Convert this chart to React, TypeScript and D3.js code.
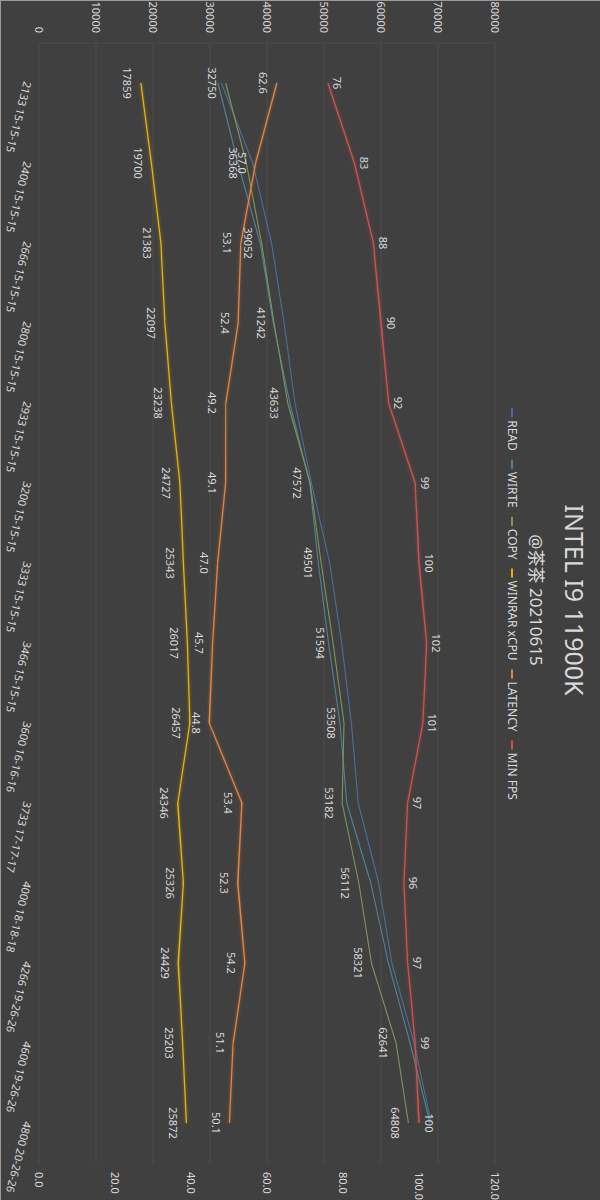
import React from 'react';
import * as d3 from 'd3';

const categories = [
  '2133 15-15-15', '2400 15-15-15', '2666 15-15-15', '2800 15-15-15', '2933 15-15-15',
  '3200 15-15-15', '3333 15-15-15', '3466 15-15-15', '3600 16-16-16', '3733 17-17-17',
  '4000 18-18-18', '4266 19-26-26', '4600 19-26-26', '4800 20-26-26',
];
const readValues = [32000, 37500, 40800, 43000, 44900, 47800, 51000, 53100, 54800, 56000, 59600, 61900, 65800, 68800];
const writeValues = [31400, 34900, 38800, 41100, 44000, 47500, 49000, 50800, 52800, 54000, 58200, 61300, 65100, 68600];
const copyValues = [32750, 36368, 39052, 41242, 43633, 47572, 49501, 51594, 53508, 53182, 56112, 58321, 62641, 64808];
const winrarValues = [17859, 19700, 21383, 22097, 23238, 24727, 25343, 26017, 26457, 24346, 25326, 24429, 25203, 25872];
const latencyValues = [62.6, 57.0, 53.1, 52.4, 49.2, 49.1, 47.0, 45.7, 44.8, 53.4, 52.3, 54.2, 51.1, 50.1];
const minFpsValues = [76, 83, 88, 90, 92, 99, 100, 102, 101, 97, 96, 97, 99, 100];
const leftTicks = [0, 10000, 20000, 30000, 40000, 50000, 60000, 70000, 80000];
const rightTicks = [0, 20, 40, 60, 80, 100, 120];

const title = 'INTEL I9 11900K';
const subtitle = '@茶茶 20210615';

const FONT = '"Noto Sans", "Noto Sans CJK SC", sans-serif';
const TEXT = '#d9d9d9';

type Series = {
  name: string;
  values: number[];
  axis: 'left' | 'right';
  color: string;
  width: number;
  glow: boolean;
  label: 'none' | 'below' | 'above';
  fmt: (v: number) => string;
};

const series: Series[] = [
  { name: 'READ', values: readValues, axis: 'left', color: '#4a6f9e', width: 1.1, glow: false, label: 'none', fmt: (v) => String(v) },
  { name: 'WIRTE', values: writeValues, axis: 'left', color: '#4c8599', width: 1.1, glow: false, label: 'none', fmt: (v) => String(v) },
  { name: 'COPY', values: copyValues, axis: 'left', color: '#7f9657', width: 1.1, glow: false, label: 'below', fmt: (v) => String(v) },
  { name: 'WINRAR xCPU', values: winrarValues, axis: 'left', color: '#e8b308', width: 1.3, glow: true, label: 'below', fmt: (v) => String(v) },
  { name: 'LATENCY', values: latencyValues, axis: 'right', color: '#e8843c', width: 1.3, glow: true, label: 'below', fmt: (v) => v.toFixed(1) },
  { name: 'MIN FPS', values: minFpsValues, axis: 'right', color: '#d4504c', width: 1.3, glow: true, label: 'above', fmt: (v) => String(v) },
];

function measure(text: string, size: number): number {
  const c = document.createElement('canvas');
  const ctx = c.getContext('2d');
  if (!ctx) return text.length * size * 0.55;
  ctx.font = `${size}px ${FONT}`;
  return ctx.measureText(text).width;
}

export default function App() {
  const W = 1200;
  const plotLeft = 43;
  const plotRight = 1163;
  const plotTop = 105;
  const plotBottom = 561;

  const x = d3.scaleBand<string>().domain(categories).range([plotLeft, plotRight]);
  const cx = (i: number) => (x(categories[i]) as number) + x.bandwidth() / 2;
  const yL = d3.scaleLinear().domain([0, 80000]).range([plotBottom, plotTop]);
  const yR = d3.scaleLinear().domain([0, 120]).range([plotBottom, plotTop]);

  const legendFont = 12;
  const markerLen = 9;
  const markerGap = 3;
  const itemGap = 9;
  const widths = series.map((s) => markerLen + markerGap + measure(s.name, legendFont));
  const total = widths.reduce((a, b) => a + b, 0) + itemGap * (series.length - 1);
  let lx = W / 2 - total / 2 + 4;
  const legendItems = series.map((s, i) => {
    const pos = lx;
    lx += widths[i] + itemGap;
    return { s, pos };
  });
  const legendY = 88;

  return (
    <svg width={600} height={1200} style={{ position: 'absolute', left: 0, top: 0, display: 'block' }}>
      <defs>
        {series.map((s, i) => (
          <filter key={i} id={`glow${i}`} x="-5%" y="-50%" width="110%" height="200%">
            <feGaussianBlur in="SourceGraphic" stdDeviation="1.5" result="b" />
            <feComponentTransfer in="b" result="b2">
              <feFuncA type="linear" slope="0.55" />
            </feComponentTransfer>
            <feMerge>
              <feMergeNode in="b2" />
              <feMergeNode in="SourceGraphic" />
            </feMerge>
          </filter>
        ))}
      </defs>
      <rect x={0} y={0} width={600} height={1200} fill="#404040" />
      <g transform="translate(600,0) rotate(90)">
        {leftTicks.map((t) => (
          <line key={`g${t}`} x1={plotLeft} x2={plotRight} y1={yL(t)} y2={yL(t)} stroke="#4c4c4c" strokeWidth={1} />
        ))}
        <line x1={plotLeft} x2={plotLeft} y1={plotTop} y2={plotBottom} stroke="#4c4c4c" strokeWidth={1} />

        <text x={W / 2} y={35} textAnchor="middle" fontFamily={FONT} fontSize={25} fill={TEXT}>{title}</text>
        <text x={W / 2} y={70} textAnchor="middle" fontFamily={FONT} fontSize={17} fill={TEXT}>{subtitle}</text>

        {legendItems.map(({ s, pos }, i) => (
          <g key={`l${i}`}>
            <line x1={pos} x2={pos + markerLen} y1={legendY} y2={legendY} stroke={s.color} strokeWidth={2} />
            <text x={pos + markerLen + markerGap} y={legendY} dominantBaseline="central" fontFamily={FONT} fontSize={legendFont} fill={TEXT}>{s.name}</text>
          </g>
        ))}

        {leftTicks.map((t) => (
          <text key={`la${t}`} x={33} y={yL(t)} textAnchor="end" dominantBaseline="central" fontFamily={FONT} fontSize={11} fill={TEXT}>{t}</text>
        ))}
        {rightTicks.map((t) => (
          <text key={`ra${t}`} x={1172} y={yR(t)} textAnchor="start" dominantBaseline="central" fontFamily={FONT} fontSize={11} fill={TEXT}>{t.toFixed(1)}</text>
        ))}
        {categories.map((c, i) => (
          <text key={`c${i}`} transform={`translate(${cx(i)},${plotBottom + 6}) rotate(14)`} textAnchor="start" dominantBaseline="hanging" fontFamily={FONT} fontSize={11} fill={TEXT}>{c}</text>
        ))}

        {series.map((s, si) => {
          const y = s.axis === 'left' ? yL : yR;
          const line = d3.line<number>().x((_, i) => cx(i)).y((v) => y(v));
          return (
            <path key={`p${si}`} d={line(s.values) || ''} fill="none" stroke={s.color} strokeWidth={s.width}
              strokeLinejoin="round" filter={s.glow ? `url(#glow${si})` : undefined} />
          );
        })}

        {series.map((s, si) => {
          if (s.label === 'none') return null;
          const y = s.axis === 'left' ? yL : yR;
          const off = s.label === 'below' ? 13 : -10;
          return (
            <g key={`dl${si}`}>
              {s.values.map((v, i) => (
                <text key={i} x={cx(i)} y={y(v) + off} textAnchor="middle" dominantBaseline="central" fontFamily={FONT} fontSize={11} fill={TEXT}>{s.fmt(v)}</text>
              ))}
            </g>
          );
        })}
      </g>
      <line x1={0.5} x2={0.5} y1={0} y2={1200} stroke="#9a9a9a" strokeWidth={1} />
      <line x1={0} x2={600} y1={0.5} y2={0.5} stroke="#9a9a9a" strokeWidth={1} />
    </svg>
  );
}
